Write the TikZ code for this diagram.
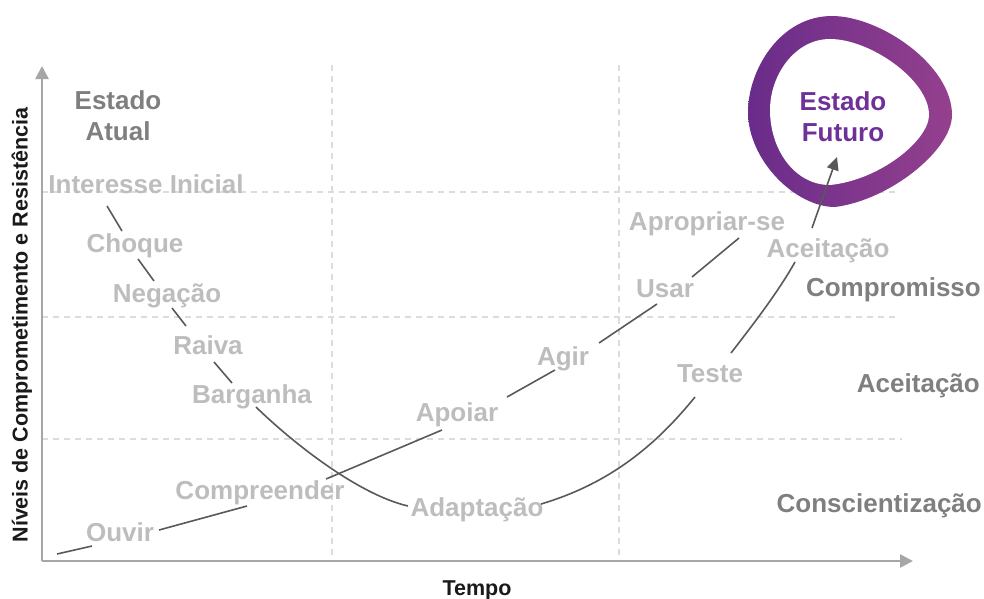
\documentclass[tikz,border=0pt]{standalone}
\usepackage{fontspec}
\setmainfont{Liberation Sans}
\usetikzlibrary{arrows.meta}
\definecolor{lightlbl}{HTML}{BDBDBD}
\definecolor{darklbl}{HTML}{7F7F7F}
\definecolor{purpletxt}{HTML}{70309A}
\definecolor{connc}{HTML}{595959}
\definecolor{axisc}{HTML}{A6A6A6}
\definecolor{gridc}{HTML}{DCDCDC}
\definecolor{ringL}{HTML}{692C8A}
\definecolor{ringR}{HTML}{94408D}
\definecolor{titlec}{HTML}{1A1A1A}
\begin{document}
\begin{tikzpicture}[x=1pt,y=-1pt,
  lbl/.style={font=\bfseries\fontsize{26}{31}\selectfont, text=lightlbl, inner sep=0pt, anchor=base},
  stagelbl/.style={font=\bfseries\fontsize{26}{31}\selectfont, text=darklbl, inner sep=0pt, anchor=base east},
  axtitle/.style={font=\bfseries\fontsize{21.5}{25}\selectfont, text=titlec, inner sep=0pt, anchor=base},
  conn/.style={draw=connc, line width=1.6pt},
  gridline/.style={draw=gridc, line width=1.2pt, dash pattern=on 6pt off 5pt},
  axisline/.style={draw=axisc, line width=2.5pt, -{Triangle[length=13pt,width=13pt]}},
  tiparrow/.style={draw=connc, fill=connc, line width=1.6pt, -{Triangle[length=13pt,width=12pt]}}]
\useasboundingbox (0,0) rectangle (984,598);

% grid
\coordinate (gv1t) at (332,65); \coordinate (gv1b) at (332,561);
\coordinate (gv2t) at (619,65); \coordinate (gv2b) at (619,561);
\coordinate (gh1l) at (42,192); \coordinate (gh1r) at (900,192);
\coordinate (gh2l) at (42,317); \coordinate (gh2r) at (900,317);
\coordinate (gh3l) at (42,439); \coordinate (gh3r) at (902,439);
\draw[gridline] (gv1t) -- (gv1b);
\draw[gridline] (gv2t) -- (gv2b);
\draw[gridline] (gh1l) -- (gh1r);
\draw[gridline] (gh2l) -- (gh2r);
\draw[gridline] (gh3l) -- (gh3r);

% axes
\coordinate (orig) at (42,561);
\coordinate (ytip) at (42,66);
\coordinate (xtip) at (913,561);
\draw[axisline] (orig) -- (ytip);
\draw[axisline] (orig) -- (xtip);
\node[axtitle, rotate=90] (ytitle) at (27.5,325) {Níveis de Comprometimento e Resistência};
\node[axtitle] (xtitle) at (477,595) {Tempo};

% ring
\shade[left color=ringL, right color=ringR]
  (748,112) .. controls (748,70) and (780,16) .. (832,16)
  .. controls (880,16) and (952,65) .. (952,115)
  .. controls (952,150) and (890,200) .. (835,207)
  .. controls (795,207) and (748,160) .. (748,112) -- cycle;
\fill[white]
  (770,110) .. controls (770,75) and (795,39) .. (830,39)
  .. controls (870,39) and (929,80) .. (929,115)
  .. controls (929,140) and (880,180) .. (830,185)
  .. controls (795,185) and (770,150) .. (770,110) -- cycle;

% labels
\node[lbl, text=darklbl, align=center, anchor=center] (atual) at (118,116) {Estado\\Atual};
\node[lbl, text=purpletxt, align=center, anchor=center] (futuro) at (843,117) {Estado\\Futuro};
\node[lbl] (inter) at (146,193) {Interesse Inicial};
\node[lbl] (choque) at (135,252) {Choque};
\node[lbl] (neg) at (167,302) {Negação};
\node[lbl] (raiva) at (208,354) {Raiva};
\node[lbl] (barg) at (252,403) {Barganha};
\node[lbl] (adapt) at (477,516) {Adaptação};
\node[lbl] (teste) at (710,382) {Teste};
\node[lbl] (aceit) at (828,257) {Aceitação};
\node[lbl] (ouvir) at (120,541) {Ouvir};
\node[lbl] (compr) at (260,499) {Compreender};
\node[lbl] (apoiar) at (457,421) {Apoiar};
\node[lbl] (agir) at (563,365) {Agir};
\node[lbl] (usar) at (665,297) {Usar};
\node[lbl] (aprop) at (707,230) {Apropriar-se};
\node[stagelbl] (compromisso) at (981,296) {Compromisso};
\node[stagelbl] (aceitacao) at (980,392) {Aceitação};
\node[stagelbl] (consc) at (982,512) {Conscientização};

% resistance curve
\coordinate (r1a) at (107,206); \coordinate (r1b) at (122,231);
\coordinate (r2a) at (138,259); \coordinate (r2b) at (154,281);
\coordinate (r3a) at (172,308); \coordinate (r3b) at (186,326);
\coordinate (r4a) at (214,362); \coordinate (r4b) at (232,383);
\coordinate (r5a) at (256,407); \coordinate (r5b) at (408,506);
\coordinate (r6a) at (541,504); \coordinate (r6b) at (695,397);
\coordinate (r7a) at (731,353); \coordinate (r7b) at (795,262);
\coordinate (r8a) at (812,228); \coordinate (r8b) at (837,157);
\draw[conn] (r1a) -- (r1b);
\draw[conn] (r2a) -- (r2b);
\draw[conn] (r3a) -- (r3b);
\draw[conn] (r4a) -- (r4b);
\draw[conn] (r5a) .. controls (295,445) and (360,495) .. (r5b);
\draw[conn] (r6a) .. controls (615,482) and (660,440) .. (r6b);
\draw[conn] (r7a) .. controls (755,322) and (778,292) .. (r7b);
\draw[tiparrow] (r8a) -- (r8b);

% commitment curve
\coordinate (c0a) at (57,554); \coordinate (c0b) at (92,546);
\coordinate (c1a) at (159,530); \coordinate (c1b) at (247,506);
\coordinate (c2a) at (326,479); \coordinate (c2b) at (442,430);
\coordinate (c3a) at (507,397); \coordinate (c3b) at (555,370);
\coordinate (c4a) at (599,343); \coordinate (c4b) at (657,304);
\coordinate (c5a) at (692,277); \coordinate (c5b) at (739,238);
\draw[conn] (c0a) -- (c0b);
\draw[conn] (c1a) -- (c1b);
\draw[conn] (c2a) -- (c2b);
\draw[conn] (c3a) -- (c3b);
\draw[conn] (c4a) -- (c4b);
\draw[conn] (c5a) -- (c5b);
\end{tikzpicture}
\end{document}
